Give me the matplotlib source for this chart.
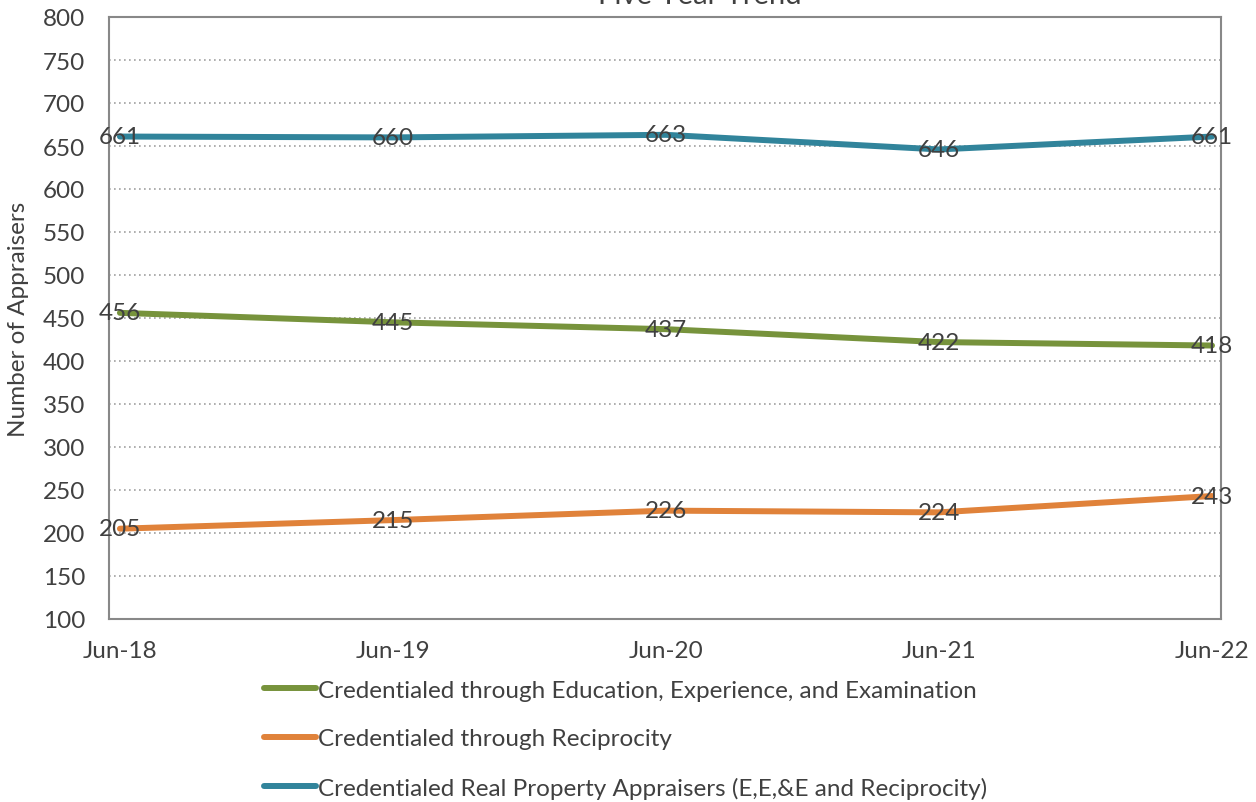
import matplotlib
matplotlib.use("Agg")
import matplotlib.pyplot as plt
from matplotlib.ticker import MultipleLocator

plt.rcParams['font.family'] = ['Lato', 'DejaVu Sans']

categories = ["Jun-18", "Jun-19", "Jun-20", "Jun-21", "Jun-22"]
eee = [456, 445, 437, 422, 418]
reciprocity = [205, 215, 226, 224, 243]
total = [661, 660, 663, 646, 661]

labels = ["Credentialed through Education, Experience, and Examination",
          "Credentialed through Reciprocity",
          "Credentialed Real Property Appraisers (E,E,&E and Reciprocity)"]
colors = ["#77933C", "#E0823A", "#31849B"]
series = [eee, reciprocity, total]

TXT = "#404040"
FS = 17.5
fig = plt.figure(figsize=(12.56, 8.03), dpi=100)
ax = fig.add_axes([109/1256, 1-620/803, (1221-109)/1256, (620-18)/803])

x = list(range(len(categories)))
handles = []
for vals, c, lab in zip(series, colors, labels):
    h, = ax.plot(x, vals, color=c, lw=4.3, solid_capstyle='round', label=lab, zorder=3)
    handles.append(h)
    for xi, v in zip(x, vals):
        ax.text(xi, v, str(v), ha='center', va='center', fontsize=FS, color=TXT, zorder=4)

ax.set_ylim(100, 800)
ax.set_xlim(-0.04, 4.033)
ax.yaxis.set_major_locator(MultipleLocator(50))
ax.set_xticks(x)
ax.set_xticklabels(categories)
ax.tick_params(axis='both', length=0, labelsize=FS, labelcolor=TXT)
ax.tick_params(axis='y', pad=17)
ax.tick_params(axis='x', pad=15)
ax.grid(axis='y', linestyle=(0, (1, 2)), color='#A0A0A0', lw=1.2)
for s in ax.spines.values():
    s.set_color('#888888')
    s.set_linewidth(1.5)
ax.set_ylabel("Number of Appraisers", fontsize=FS, color=TXT)
ax.yaxis.set_label_coords((29 - 109) / (1221 - 109), 0.5)

fig.text(700/1256, 1-(-4)/803, "Five Year Trend", ha='center', va='center', fontsize=21, color=TXT)

leg = fig.legend(handles=handles, loc='upper left', bbox_to_anchor=(254/1256, 1-671/803),
                 frameon=False, fontsize=FS, handlelength=2.15, handletextpad=0.1,
                 labelspacing=1.13, borderaxespad=0)
for t in leg.get_texts():
    t.set_color(TXT)

fig.savefig("out.png", dpi=100)
